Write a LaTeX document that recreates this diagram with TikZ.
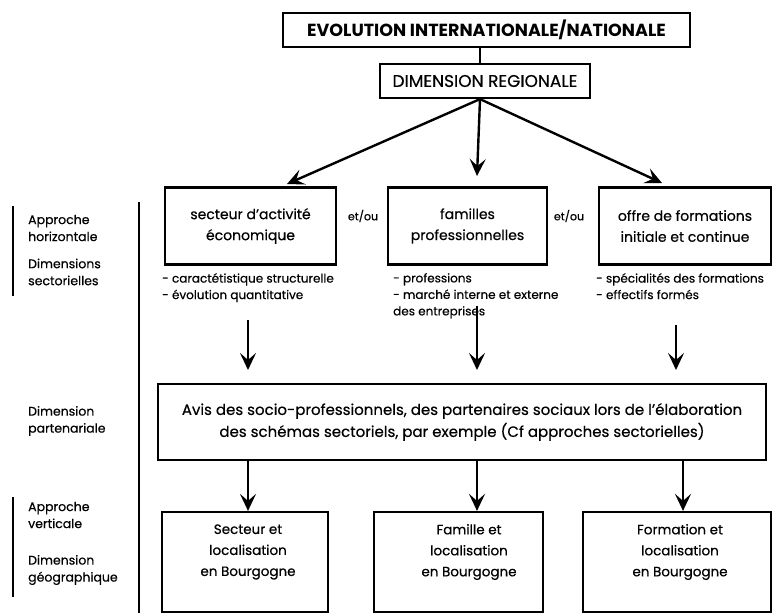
\documentclass[tikz,border=0pt]{standalone}
\usepackage{fontspec}
\setmainfont{Poppins}[UprightFeatures={FakeBold=0.5}]
\usetikzlibrary{arrows.meta}

\begin{document}
\begin{tikzpicture}[x=1pt, y=-1pt, every node/.style={text centered},
	box/.style={rectangle, draw, line width=2.2pt, align=center, inner sep=0pt,
		font=\fontsize{14}{21}\selectfont},
	bigarrow/.style={line width=2.4pt, -{Stealth[length=17pt, width=16pt, inset=7pt]}},
	sidetext/.style={align=left, anchor=west, inner sep=0pt, font=\fontsize{12.5}{17}\selectfont},
	listtext/.style={align=left, anchor=north west, inner sep=0pt, font=\fontsize{12}{16.5}\selectfont},
	bar/.style={line width=2.6pt}]
	\useasboundingbox (0,0) rectangle (773,613);

	% haut du schema
	\node[box, line width=2.8pt, minimum width=407pt, minimum height=34pt,
		font=\fontsize{17.5}{19}\selectfont\bfseries] (evol) at (486.5,30)
		{EVOLUTION INTERNATIONALE/NATIONALE};
	\node[box, minimum width=210pt, minimum height=34pt,
		font=\fontsize{17}{19}\selectfont] (region) at (485,81)
		{DIMENSION REGIONALE};
	\draw[bar] (evol.south -| 480,0) -- (region.north -| 480,0);

	% approche horizontale
	\node[box, minimum width=171pt, minimum height=77pt] (secteur) at (250.5,226)
		{secteur d’activité\\économique};
	\node[box, minimum width=159pt, minimum height=77pt] (famille) at (467.5,226)
		{familles\\professionnelles};
	\node[box, minimum width=172pt, minimum height=77pt] (offre) at (685,226)
		{offre de formations\\initiale et continue};
	\node[font=\fontsize{11}{12}\selectfont] (ou1) at (363,216) {et/ou};
	\node[font=\fontsize{11}{12}\selectfont] (ou2) at (569,216) {et/ou};

	\coordinate (tipA) at (287,184);
	\coordinate (tipB) at (477,176);
	\coordinate (tipC) at (662,183);
	\draw[bigarrow] (region.south -| 480,0) -- (tipA);
	\draw[bigarrow] (region.south -| 480,0) -- (tipB);
	\draw[bigarrow] (region.south -| 480,0) -- (tipC);

	\node[listtext] (carac) at (162,273)
		{- caractétistique structurelle\\- évolution quantitative};
	\node[listtext] (prof) at (393,273)
		{- professions\\- marché interne et externe\\des entreprises};
	\node[listtext] (spec) at (596,273)
		{- spécialités des formations\\- effectifs formés};

	% dimension partenariale
	\node[box, minimum width=608pt, minimum height=76pt,
		font=\fontsize{15}{22}\selectfont] (avis) at (462,422)
		{Avis des socio-professionnels, des partenaires sociaux lors de l’élaboration\\
		des schémas sectoriels, par exemple (Cf approches sectorielles)};

	\coordinate (srcA) at (248,320);
	\coordinate (srcB) at (477,306);
	\coordinate (srcC) at (676,325);
	\draw[bigarrow] (srcA) -- ++(0,50);
	\draw[bigarrow] (srcB) -- ++(0,64);
	\draw[bigarrow] (srcC) -- ++(0,45);

	% approche verticale
	\node[box, minimum width=166pt, minimum height=100pt] (bsect) at (245,562) {};
	\node[box, minimum width=169pt, minimum height=100pt] (bfam) at (458.5,562) {};
	\node[box, minimum width=188pt, minimum height=100pt] (bform) at (677,562) {};
	\node[align=center, font=\fontsize{13.5}{21}\selectfont] (tsect) at (248,552)
		{Secteur et\\localisation\\en Bourgogne};
	\node[align=center, font=\fontsize{13.5}{21}\selectfont] (tfam) at (469,552)
		{Famille et\\localisation\\en Bourgogne};
	\node[align=center, font=\fontsize{13.5}{21}\selectfont] (tform) at (680,552)
		{Formation et\\localisation\\en Bourgogne};
	\draw[bigarrow] (avis.south -| 248,0) -- (bsect.north -| 248,0);
	\draw[bigarrow] (avis.south -| 477,0) -- (bfam.north -| 477,0);
	\draw[bigarrow] (avis.south -| 683,0) -- (bform.north -| 683,0);

	% colonne de gauche
	\node[sidetext] (apph) at (28,228) {Approche\\horizontale};
	\node[sidetext] (dsect) at (28,272) {Dimensions\\sectorielles};
	\node[sidetext] (dpart) at (28,421) {Dimension\\partenariale};
	\node[sidetext] (appv) at (28,515) {Approche\\verticale};
	\node[sidetext] (dgeo) at (28,570) {Dimension\\géographique};
	\coordinate (barA) at (13,206);
	\coordinate (barB) at (13,497);
	\draw[bar] (barA) -- ++(0,90);
	\draw[bar] (barB) -- ++(0,100);
	\draw[bar] (139,202) -- (139,613);
\end{tikzpicture}
\end{document}
